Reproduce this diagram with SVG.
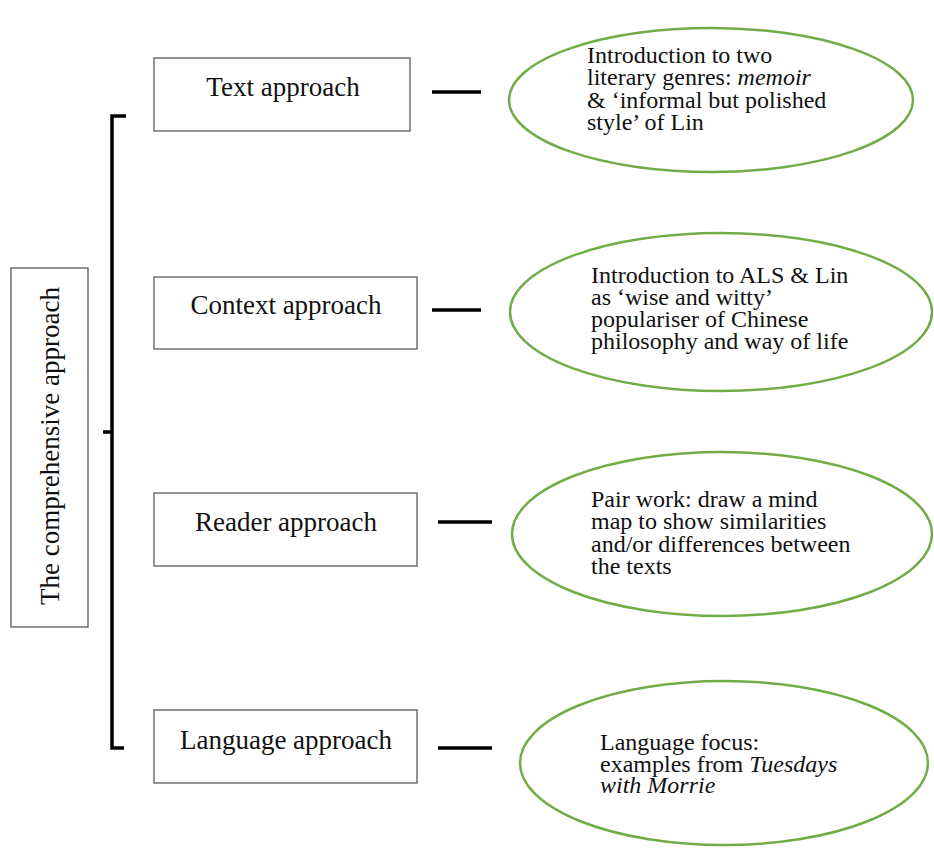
<svg xmlns="http://www.w3.org/2000/svg" width="934" height="850" viewBox="0 0 934 850">
<style>
.box{fill:#fff;stroke:#595959;stroke-width:1.3}
.ell{fill:#fff;stroke:#70AD47;stroke-width:2.5}
.bt{font-family:"Liberation Serif","Times New Roman",serif;font-size:27px;fill:#111;text-anchor:middle}
.et{font-family:"Liberation Serif","Times New Roman",serif;font-size:24px;fill:#111}
.ln{stroke:#000;stroke-width:3.5;fill:none}
</style>
<rect width="934" height="850" fill="#fff"/>
<g id="root">
<rect class="box" x="11" y="268" width="77" height="359"/>
<text class="bt" transform="translate(59,446) rotate(-90)" x="0" y="0">The comprehensive approach</text>
</g>
<g id="connectors">
<path class="ln" d="M126,116 H112 V748 H124"/>
<path class="ln" d="M103,432 H112"/>
<path class="ln" d="M432,92 H481"/>
<path class="ln" d="M432,310 H481"/>
<path class="ln" d="M438,522 H492"/>
<path class="ln" d="M438,748 H492"/>
</g>
<g id="text-approach">
<rect class="box" x="154" y="58" width="256" height="73"/>
<text class="bt" x="283" y="96">Text approach</text>
</g>
<g id="context-approach">
<rect class="box" x="154" y="277" width="263" height="72"/>
<text class="bt" x="286" y="314">Context approach</text>
</g>
<g id="reader-approach">
<rect class="box" x="154" y="493" width="263" height="73"/>
<text class="bt" x="286" y="531">Reader approach</text>
</g>
<g id="language-approach">
<rect class="box" x="154" y="710" width="263" height="73"/>
<text class="bt" x="286" y="749">Language approach</text>
</g>
<g id="text-detail">
<ellipse class="ell" cx="711" cy="100" rx="202" ry="72"/>
<text class="et"><tspan x="587" y="62.5">Introduction to two</tspan><tspan x="587" y="85">literary genres: <tspan font-style="italic">memoir</tspan></tspan><tspan x="587" y="107.5">&amp; ‘informal but polished</tspan><tspan x="587" y="130">style’ of Lin</tspan></text>
</g>
<g id="context-detail">
<ellipse class="ell" cx="721" cy="312" rx="211" ry="79"/>
<text class="et"><tspan x="591" y="283">Introduction to ALS &amp; Lin</tspan><tspan x="591" y="305">as ‘wise and witty’</tspan><tspan x="591" y="327">populariser of Chinese</tspan><tspan x="591" y="349">philosophy and way of life</tspan></text>
</g>
<g id="reader-detail">
<ellipse class="ell" cx="722" cy="534" rx="210" ry="82"/>
<text class="et"><tspan x="591" y="507">Pair work: draw a mind</tspan><tspan x="591" y="529">map to show similarities</tspan><tspan x="591" y="552">and/or differences between</tspan><tspan x="591" y="574">the texts</tspan></text>
</g>
<g id="language-detail">
<ellipse class="ell" cx="724" cy="763" rx="204" ry="82"/>
<text class="et"><tspan x="600" y="750">Language focus:</tspan><tspan x="600" y="772">examples from <tspan font-style="italic">Tuesdays</tspan></tspan><tspan x="600" y="793" font-style="italic">with Morrie</tspan></text>
</g>
</svg>
